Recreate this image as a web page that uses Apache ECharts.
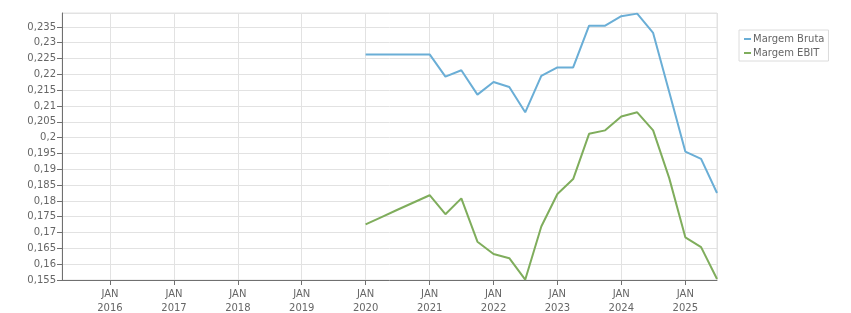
<!DOCTYPE html>
<html>
<head>
<meta charset="utf-8">
<script src="https://cdn.jsdelivr.net/npm/echarts@6/dist/echarts.min.js"></script>
<style>
  html, body { margin: 0; padding: 0; background: #fff; }
  #chart { width: 851px; height: 313px; }
</style>
</head>
<body>
<div id="chart"></div>
<script>
// quarterly points, Jan 2020 .. Jul 2025
var dates = ['2020-01-01','2020-04-01','2020-07-01','2020-10-01',
	'2021-01-01','2021-04-01','2021-07-01','2021-10-01',
	'2022-01-01','2022-04-01','2022-07-01','2022-10-01',
	'2023-01-01','2023-04-01','2023-07-01','2023-10-01',
	'2024-01-01','2024-04-01','2024-07-01','2024-10-01',
	'2025-01-01','2025-04-01','2025-07-01'];
var margemBruta = [0.2263, 0.2263, 0.2263, 0.2263,
	0.2263, 0.2193, 0.2213, 0.2136,
	0.2176, 0.2160, 0.2080, 0.2195,
	0.2222, 0.2222, 0.2354, 0.2354,
	0.2384, 0.2392, 0.2331, 0.2144,
	0.1956, 0.1933, 0.1825];
var margemEbit = [0.1726, 0.1749, 0.1772, 0.1795,
	0.1818, 0.1758, 0.1808, 0.1671,
	0.1632, 0.1619, 0.1551, 0.1719,
	0.1822, 0.1869, 0.2012, 0.2023,
	0.2067, 0.2080, 0.2023, 0.1872,
	0.1685, 0.1654, 0.1553];
var seriesNames = ['Margem Bruta', 'Margem EBIT'];

var pairs = function(vals){
	var out = [];
	for (var i = 0; i < dates.length; i++) out.push([dates[i], vals[i]]);
	return out;
};

var fnt = 'DejaVu Sans';
var option = {
	animation: false,
	color: ['#6aaed6', '#7fad5c'],
	grid: {
		left: 62, right: 134, top: 13, bottom: 33,
		outerBoundsMode: 'none',
		show: true, borderColor: '#e2e2e2', borderWidth: 1
	},
	legend: {
		orient: 'vertical',
		left: 739, top: 30,
		data: seriesNames,
		icon: 'rect',
		itemWidth: 7, itemHeight: 2,
		itemGap: 4,
		padding: [4, 4, 3, 5],
		borderColor: '#dcdcdc', borderWidth: 1,
		textStyle: { fontFamily: fnt, fontSize: 10, color: '#666', padding: [0, 0, 0, -3] }
	},
	xAxis: {
		type: 'time',
		min: '2015-04-02',
		max: '2025-07-01',
		minInterval: 365 * 24 * 3600 * 1000,
		maxInterval: 366 * 24 * 3600 * 1000,
		axisLine: { lineStyle: { color: '#707070', width: 1 } },
		axisTick: { length: 5, lineStyle: { color: '#707070' } },
		splitLine: { show: true, lineStyle: { color: '#e2e2e2' } },
		axisLabel: {
			showMinLabel: false, showMaxLabel: false,
			fontFamily: fnt, fontSize: 10, color: '#666', lineHeight: 13.5, margin: 8,
			formatter: function(v){ return 'JAN\n' + new Date(v).getFullYear(); }
		}
	},
	yAxis: {
		type: 'value',
		min: 0.155, max: 0.2394, interval: 0.005,
		axisLine: { show: true, lineStyle: { color: '#707070' } },
		axisTick: { show: true, length: 5, lineStyle: { color: '#707070' } },
		splitLine: { lineStyle: { color: '#e2e2e2' } },
		axisLabel: {
			showMaxLabel: false,
			fontFamily: fnt, fontSize: 10, color: '#666', margin: 6,
			formatter: function(v){ return String(+v.toFixed(4)).replace('.', ','); }
		}
	},
	series: [
		{ name: seriesNames[0], type: 'line', data: pairs(margemBruta), showSymbol: false, lineStyle: { width: 2 } },
		{ name: seriesNames[1], type: 'line', data: pairs(margemEbit), showSymbol: false, lineStyle: { width: 2 } }
	]
};
var myChart = echarts.init(document.getElementById('chart'));
myChart.setOption(option);
</script>
</body>
</html>
